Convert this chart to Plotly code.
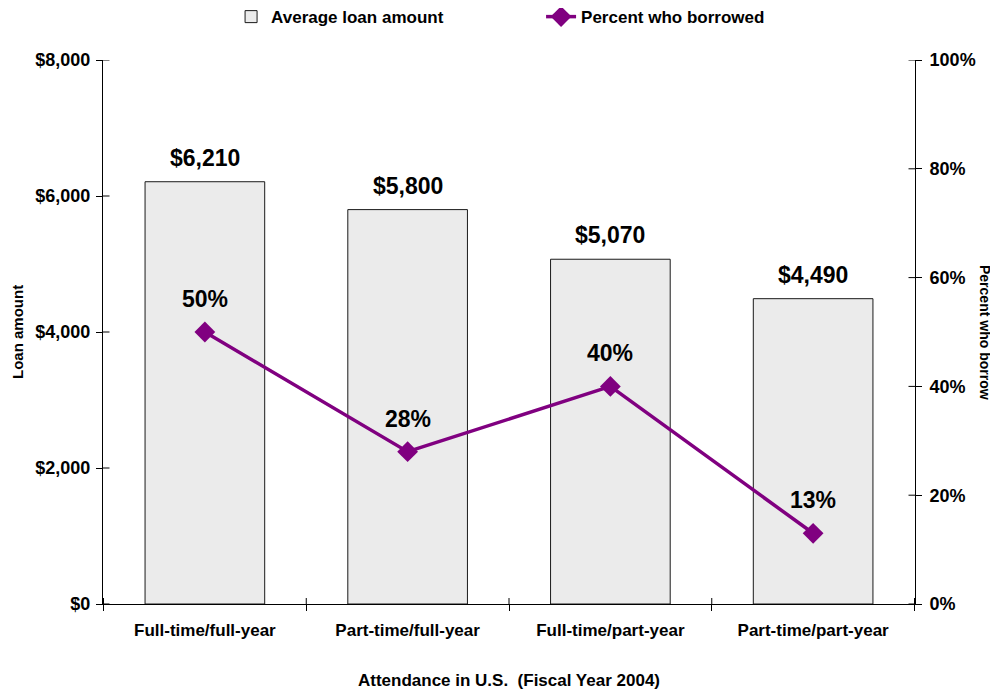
import plotly.graph_objects as go

categories = ["Full-time/full-year", "Part-time/full-year", "Full-time/part-year", "Part-time/part-year"]
loan_amount = [6210, 5800, 5070, 4490]
pct_borrowed = [50, 28, 40, 13]
loan_ticks = [0, 2000, 4000, 6000, 8000]
pct_ticks = [0, 20, 40, 60, 80, 100]

FONT = "Liberation Sans, Arial, sans-serif"
PURPLE = "#800080"

fig = go.Figure()
fig.add_trace(go.Bar(
    x=categories, y=loan_amount, name="<b>Average loan amount</b>",
    marker=dict(color="#ebebeb", line=dict(color="#1a1a1a", width=1)),
    width=0.59,
))
fig.add_trace(go.Scatter(
    x=categories, y=pct_borrowed, name="<b>Percent who borrowed</b>", yaxis="y2",
    mode="lines+markers",
    line=dict(color=PURPLE, width=3.5),
    marker=dict(symbol="diamond", size=16, color=PURPLE),
))

for c, v in zip(categories, loan_amount):
    fig.add_annotation(x=c, y=v, yref="y", text=f"<b>${v:,}</b>", showarrow=False,
                       yshift=24, font=dict(family=FONT, size=23, color="black"))
for c, p in zip(categories, pct_borrowed):
    fig.add_annotation(x=c, y=p, yref="y2", text=f"<b>{p}%</b>", showarrow=False,
                       yshift=33, font=dict(family=FONT, size=23, color="black"))

# inner halves of crossing ticks
shapes = []
for v in loan_ticks:
    shapes.append(dict(type="line", xref="paper", yref="y", x0=0, x1=0.008, y0=v, y1=v,
                       line=dict(color="black", width=1)))
for v in pct_ticks:
    shapes.append(dict(type="line", xref="paper", yref="y2", x0=0.992, x1=1, y0=v, y1=v,
                       line=dict(color="black", width=1)))
for i in range(len(categories) + 1):
    shapes.append(dict(type="line", xref="x", yref="paper", x0=i - 0.5, x1=i - 0.5, y0=0, y1=0.011,
                       line=dict(color="black", width=1)))

fig.add_annotation(xref="paper", yref="paper", x=1.0, xshift=70, y=0.5, xanchor="center",
                   text="<b>Percent who borrow</b>",
                   textangle=90, showarrow=False, font=dict(family=FONT, size=14, color="black"))
fig.add_annotation(xref="paper", yref="paper", x=0.0, xshift=-86, y=0.5, xanchor="center",
                   text="<b>Loan amount</b>",
                   textangle=-90, showarrow=False, font=dict(family=FONT, size=15, color="black"))

fig.update_layout(
    width=990, height=684,
    margin=dict(l=95, r=83, t=52, b=88, autoexpand=False),
    paper_bgcolor="white", plot_bgcolor="white",
    font=dict(family=FONT, color="black"),
    shapes=shapes,
    showlegend=True,
    legend=dict(orientation="h", x=0.5395, xanchor="center", y=1.112, yanchor="top",
                font=dict(family=FONT, size=17, color="black"),
                entrywidth=265, entrywidthmode="pixels", traceorder="normal"),
    xaxis=dict(
        showline=True, linecolor="black", linewidth=1,
        ticks="outside", tickson="boundaries", ticklen=6, tickcolor="black",
        tickfont=dict(family=FONT, size=17, color="black"),
        tickprefix="<b>", ticksuffix="</b>", ticklabelstandoff=11,
        title=dict(text="<b>Attendance in U.S.\u00a0\u00a0(Fiscal Year 2004)</b>",
                   font=dict(family=FONT, size=17, color="black"), standoff=34),
        showgrid=False,
    ),
    yaxis=dict(
        range=[0, 8000], tickvals=loan_ticks, ticktext=[f"<b>${v:,}</b>" for v in loan_ticks],
        showline=True, linecolor="black", linewidth=1,
        ticks="outside", ticklen=6, tickcolor="black", ticklabelstandoff=2,
        tickfont=dict(family=FONT, size=18, color="black"),
        showgrid=False, zeroline=False,
    ),
    yaxis2=dict(
        range=[0, 100], tickvals=pct_ticks, ticktext=[f"<b>{v}%</b>" for v in pct_ticks],
        overlaying="y", side="right",
        showline=True, linecolor="black", linewidth=1,
        ticks="outside", ticklen=6, tickcolor="black", ticklabelstandoff=4,
        tickfont=dict(family=FONT, size=18, color="black"),
        showgrid=False, zeroline=False,
    ),
)

fig.write_html("out.html")
